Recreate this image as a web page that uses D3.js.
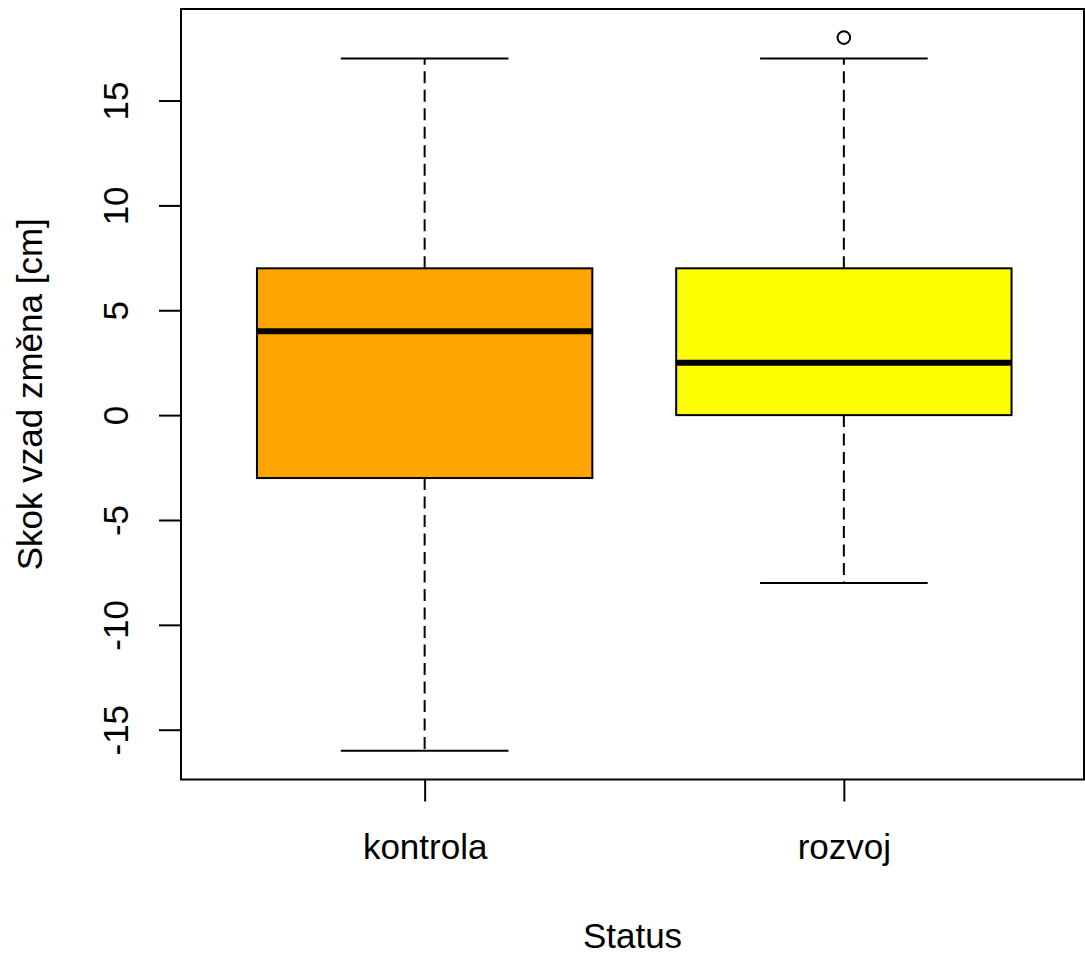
<!DOCTYPE html>
<html>
<head>
<meta charset="utf-8">
<script src="https://cdn.jsdelivr.net/npm/d3@7"></script>
<style>
  body { margin: 0; background: #fff; }
  text { font-family: "Liberation Sans", Arial, sans-serif; fill: #000; }
</style>
</head>
<body>
<div id="chart"></div>
<script>
// boxplot stats
const groups = ["kontrola", "rozvoj"];
const lowerWhisker = [-16, -8];
const q1 = [-3, 0];
const medians = [4, 2.5];
const q3 = [7, 7];
const upperWhisker = [17, 17];
const outliers = [[], [18]];
const boxColors = ["#FFA500", "#FFFF00"];
const yTicks = [-15, -10, -5, 0, 5, 10, 15];

const width = 1085, height = 953;
const plot = { left: 181, top: 9, right: 1084, bottom: 779.5 };

const svg = d3.select("#chart").append("svg")
    .attr("width", width)
    .attr("height", height);

// R style: range extended by 4%
const x = d3.scaleLinear().domain([0.42, 2.58]).range([181.5, 1087]);
const y = d3.scaleLinear().domain([-17.36, 19.36]).range([779.2, 9.1]);

const data = groups.map((g, i) => ({
    name: g, pos: i + 1,
    lo: lowerWhisker[i], q1: q1[i], med: medians[i], q3: q3[i], hi: upperWhisker[i],
    out: outliers[i], color: boxColors[i]
}));

const boxes = svg.append("g").selectAll("g")
    .data(data)
    .join("g");

// whiskers (dashed)
boxes.append("line")
    .attr("x1", d => x(d.pos)).attr("x2", d => x(d.pos))
    .attr("y1", d => y(d.q3)).attr("y2", d => y(d.hi))
    .attr("stroke", "#000").attr("stroke-width", 2)
    .attr("stroke-dasharray", "12,6.5");
boxes.append("line")
    .attr("x1", d => x(d.pos)).attr("x2", d => x(d.pos))
    .attr("y1", d => y(d.q1)).attr("y2", d => y(d.lo))
    .attr("stroke", "#000").attr("stroke-width", 2)
    .attr("stroke-dasharray", "12,6.5");

// staples
boxes.selectAll(".staple")
    .data(d => [{ pos: d.pos, v: d.lo }, { pos: d.pos, v: d.hi }])
    .join("line")
    .attr("class", "staple")
    .attr("x1", d => x(d.pos - 0.2)).attr("x2", d => x(d.pos + 0.2))
    .attr("y1", d => y(d.v)).attr("y2", d => y(d.v))
    .attr("stroke", "#000").attr("stroke-width", 2);

// boxes
boxes.append("rect")
    .attr("x", d => x(d.pos - 0.4))
    .attr("width", d => x(d.pos + 0.4) - x(d.pos - 0.4))
    .attr("y", d => y(d.q3))
    .attr("height", d => y(d.q1) - y(d.q3))
    .attr("fill", d => d.color)
    .attr("stroke", "#000").attr("stroke-width", 2);

// medians
boxes.append("line")
    .attr("x1", d => x(d.pos - 0.4)).attr("x2", d => x(d.pos + 0.4))
    .attr("y1", d => y(d.med)).attr("y2", d => y(d.med))
    .attr("stroke", "#000").attr("stroke-width", 6);

// outliers
boxes.selectAll("circle")
    .data(d => d.out.map(v => ({ pos: d.pos, v })))
    .join("circle")
    .attr("cx", d => x(d.pos)).attr("cy", d => y(d.v))
    .attr("r", 6.3)
    .attr("fill", "none").attr("stroke", "#000").attr("stroke-width", 2);

// frame
svg.append("rect")
    .attr("x", plot.left).attr("y", plot.top)
    .attr("width", plot.right - plot.left)
    .attr("height", plot.bottom - plot.top)
    .attr("fill", "none").attr("stroke", "#000").attr("stroke-width", 2);

// y axis
const yAxis = svg.append("g")
    .attr("transform", `translate(${plot.left},0)`)
    .call(d3.axisLeft(y).tickValues(yTicks).tickSize(22).tickSizeOuter(0).tickFormat(d3.format("d")));
yAxis.select(".domain").remove();
yAxis.selectAll(".tick line").attr("stroke", "#000").attr("stroke-width", 2);
yAxis.selectAll(".tick text")
    .attr("x", null).attr("dy", null)
    .attr("transform", "translate(-53,0) rotate(-90)")
    .attr("text-anchor", "middle")
    .style("font-size", "35px")
    .text(d => d < 0 ? "-" + Math.abs(d) : d);

// x axis
const xAxis = svg.append("g")
    .attr("transform", `translate(0,${plot.bottom})`)
    .call(d3.axisBottom(x).tickValues([1, 2]).tickSize(22).tickSizeOuter(0)
        .tickFormat(d => groups[d - 1]));
xAxis.select(".domain").remove();
xAxis.selectAll(".tick line").attr("stroke", "#000").attr("stroke-width", 2);
xAxis.selectAll(".tick text")
    .attr("y", 79.5).attr("dy", null)
    .style("font-size", "35px");

// axis titles
svg.append("text")
    .attr("x", (plot.left + plot.right) / 2)
    .attr("y", 948)
    .attr("text-anchor", "middle")
    .style("font-size", "35px")
    .text("Status");

svg.append("text")
    .attr("transform", `translate(42,${(plot.top + plot.bottom) / 2}) rotate(-90)`)
    .attr("text-anchor", "middle")
    .style("font-size", "35px")
    .text("Skok vzad změna [cm]");
</script>
</body>
</html>
